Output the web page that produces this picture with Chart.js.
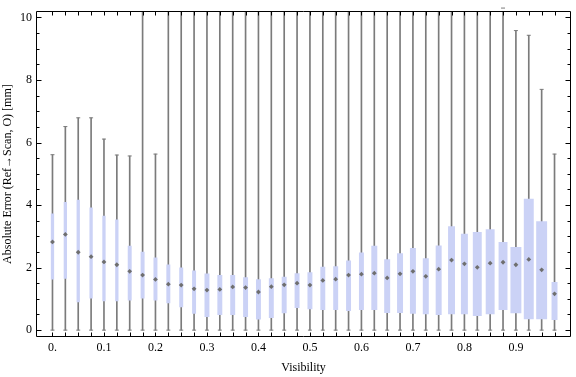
<!DOCTYPE html>
<html>
<head>
<meta charset="utf-8">
<script src="https://cdn.jsdelivr.net/npm/chart.js@4.4.1/dist/chart.umd.min.js"></script>
<style>
    html, body { margin: 0; padding: 0; background: #fff; }
</style>
</head>
<body>
<canvas id="chart" width="576" height="377"></canvas>
<script>
// box centres on the visibility axis
const visibility = [
    0, 0.025, 0.05, 0.075, 0.1, 0.125, 0.15, 0.175, 0.2, 0.225,
    0.25, 0.275, 0.3, 0.325, 0.35, 0.375, 0.4, 0.425, 0.45, 0.475,
    0.5, 0.525, 0.55, 0.575, 0.6, 0.625, 0.65, 0.675, 0.7, 0.725,
    0.75, 0.775, 0.8, 0.825, 0.85, 0.875, 0.9, 0.925, 0.95, 0.975
];

const whiskerLow = [
    0, 0, 0, 0, 0, 0, 0, 0, 0, 0,
    0, 0, 0, 0, 0, 0, 0, 0, 0, 0,
    0, 0, 0, 0, 0, 0, 0, 0, 0, 0,
    0, 0, 0, 0, 0, 0, 0, 0, 0, 0
];

// values above the frame cannot be read, 12 is a guess
const whiskerHigh = [
    5.61, 6.51, 6.79, 6.79, 6.11, 5.60, 5.57, 12, 5.63, 12,
    12, 12, 12, 12, 12, 12, 12, 12, 12, 12,
    12, 12, 12, 12, 12, 12, 12, 12, 12, 12,
    12, 12, 12, 12, 12, 10.3, 9.58, 9.43, 7.70, 5.63
];

const q1 = [
    1.62, 1.64, 0.89, 1.01, 0.92, 0.92, 0.95, 1.01, 0.95, 0.86,
    0.73, 0.52, 0.42, 0.48, 0.48, 0.42, 0.34, 0.39, 0.54, 0.71,
    0.67, 0.64, 0.64, 0.61, 0.64, 0.64, 0.55, 0.55, 0.52, 0.51,
    0.48, 0.51, 0.51, 0.45, 0.51, 0.64, 0.54, 0.35, 0.35, 0.32
];

const q3 = [
    3.73, 4.10, 4.17, 3.92, 3.66, 3.54, 2.70, 2.51, 2.32, 2.10,
    2.00, 1.91, 1.81, 1.76, 1.76, 1.69, 1.63, 1.66, 1.71, 1.82,
    1.85, 2.03, 2.04, 2.23, 2.48, 2.70, 2.27, 2.46, 2.63, 2.30,
    2.71, 3.32, 3.08, 3.14, 3.23, 2.82, 2.66, 4.20, 3.48, 1.54
];

const median = [
    2.82, 3.06, 2.49, 2.35, 2.18, 2.09, 1.88, 1.76, 1.62, 1.47,
    1.44, 1.32, 1.28, 1.30, 1.38, 1.36, 1.22, 1.39, 1.45, 1.50,
    1.44, 1.59, 1.63, 1.76, 1.79, 1.82, 1.67, 1.80, 1.88, 1.72,
    1.95, 2.24, 2.12, 2.01, 2.14, 2.17, 2.09, 2.26, 1.93, 1.16
];

// box width in visibility units (boxes get wider to the right)
const boxWidth = [
    0.0064, 0.0064, 0.0064, 0.0064, 0.0064, 0.0064, 0.0077, 0.0077, 0.0077, 0.0077,
    0.0077, 0.0077, 0.0096, 0.0096, 0.0096, 0.0096, 0.0096, 0.0096, 0.0096, 0.0096,
    0.0096, 0.0096, 0.0096, 0.0096, 0.0096, 0.0116, 0.0116, 0.0116, 0.0116, 0.0116,
    0.0116, 0.0135, 0.0135, 0.0173, 0.0173, 0.0173, 0.0212, 0.0193, 0.0212, 0.0116
];

const xTickValues = [0, 0.1, 0.2, 0.3, 0.4, 0.5, 0.6, 0.7, 0.8, 0.9];
const xTickLabels = ['0.', '0.1', '0.2', '0.3', '0.4', '0.5', '0.6', '0.7', '0.8', '0.9'];
const yTickValues = [0, 2, 4, 6, 8, 10];
const yTickLabels = ['0', '2', '4', '6', '8', '10'];

const FONT = { family: "'Liberation Serif', 'Times New Roman', serif", size: 12 };
const BOX_COLOR = '#cbd2f6';
const WHISKER_COLOR = '#7b7b7b';

// bars come out of Chart.js with one width, give each box its own
const boxWidthPlugin = {
    id: 'boxWidth',
    afterDatasetsUpdate(chart) {
        const xs = chart.scales.x;
        const meta = chart.getDatasetMeta(2);
        meta.data.forEach(function (bar, i) {
            const v = visibility[i];
            const w = boxWidth[i] / 2;
            bar.width = xs.getPixelForValue(v + w) - xs.getPixelForValue(v - w);
        });
    },
};

// Mathematica style frame with inward ticks on all four sides
const framePlugin = {
    id: 'frame',
    afterDatasetsDraw(chart) {
        const { ctx, chartArea } = chart;
        const xs = chart.scales.x;
        const ys = chart.scales.y;
        const left = Math.round(chartArea.left) + 0.5;
        const right = Math.round(chartArea.right) - 0.5;
        const top = Math.round(chartArea.top) + 0.5;
        const bottom = Math.round(chartArea.bottom) - 0.5;

        ctx.save();
        ctx.strokeStyle = '#000';
        ctx.lineWidth = 1;
        ctx.beginPath();
        ctx.rect(left, top, right - left, bottom - top);

        visibility.forEach(function (v) {
            const x = Math.round(xs.getPixelForValue(v)) + 0.5;
            ctx.moveTo(x, bottom);
            ctx.lineTo(x, bottom - 4);
            ctx.moveTo(x, top);
            ctx.lineTo(x, top + 4);
        });

        for (let k = 0; k <= 20; k++) {
            const v = k / 2;
            const len = yTickValues.indexOf(v) >= 0 ? 5 : 3;
            const y = Math.round(ys.getPixelForValue(v)) + 0.5;
            ctx.moveTo(left, y);
            ctx.lineTo(left + len, y);
            ctx.moveTo(right, y);
            ctx.lineTo(right - len, y);
        }
        ctx.stroke();
        ctx.restore();
    },
};

const chart = new Chart(document.getElementById('chart'), {
    type: 'bar',
    data: {
        datasets: [
            {
                type: 'scatter',
                label: 'Median',
                data: visibility.map(function (v, i) {
                    return { x: v, y: median[i] };
                }),
                pointStyle: 'rectRot',
                pointRadius: 2.4,
                backgroundColor: '#6f6f6f',
                borderWidth: 0,
                order: 0,
            },
            {
                type: 'scatter',
                label: 'Whisker caps',
                data: visibility.map(function (v, i) {
                    return { x: v, y: whiskerLow[i] };
                }).concat(visibility.map(function (v, i) {
                    return { x: v, y: whiskerHigh[i] };
                })),
                pointStyle: 'line',
                pointRadius: 2,
                borderColor: WHISKER_COLOR,
                borderWidth: 1,
                clip: { left: 0, top: 6, right: 0, bottom: 0 },
                order: 1,
            },
            {
                type: 'bar',
                label: 'Quartiles',
                data: visibility.map(function (v, i) {
                    return { x: v, y: [q1[i], q3[i]] };
                }),
                backgroundColor: BOX_COLOR,
                borderWidth: 0,
                grouped: false,
                order: 2,
            },
            {
                type: 'bar',
                label: 'Range',
                data: visibility.map(function (v, i) {
                    return { x: v, y: [whiskerLow[i], whiskerHigh[i]] };
                }),
                backgroundColor: WHISKER_COLOR,
                borderWidth: 0,
                barThickness: 1,
                grouped: false,
                order: 3,
            },
        ],
    },
    options: {
        responsive: false,
        animation: false,
        layout: { padding: { top: 5, right: 1, left: 0, bottom: 0 } },
        plugins: {
            legend: { display: false },
            tooltip: { enabled: false },
        },
        scales: {
            x: {
                type: 'linear',
                offset: false,
                min: -0.032,
                max: 1.007,
                grid: { display: false, drawTicks: false, offset: false },
                border: { display: false },
                afterBuildTicks: function (scale) {
                    scale.ticks = xTickValues.map(function (v) {
                        return { value: v };
                    });
                },
                afterFit: function (scale) {
                    scale.height = 40;
                },
                ticks: {
                    autoSkip: false,
                    maxRotation: 0,
                    padding: 4,
                    color: '#000',
                    font: FONT,
                    callback: function (value, index) {
                        return xTickLabels[index];
                    },
                },
                title: {
                    display: true,
                    text: 'Visibility',
                    color: '#000',
                    font: FONT,
                    padding: { top: 0, bottom: 2 },
                },
            },
            y: {
                min: -0.22,
                max: 10.2,
                grid: { display: false, drawTicks: false },
                border: { display: false },
                afterBuildTicks: function (scale) {
                    scale.ticks = yTickValues.map(function (v) {
                        return { value: v };
                    });
                },
                afterFit: function (scale) {
                    scale.width = 36;
                },
                ticks: {
                    padding: 4,
                    color: '#000',
                    font: FONT,
                    callback: function (value, index) {
                        return yTickLabels[index];
                    },
                },
                title: {
                    display: true,
                    text: 'Absolute Error (Ref\u2192Scan, O) [mm]',
                    color: '#000',
                    font: FONT,
                    padding: { top: 1, bottom: 0 },
                },
            },
        },
    },
    plugins: [boxWidthPlugin, framePlugin],
});
</script>
</body>
</html>
